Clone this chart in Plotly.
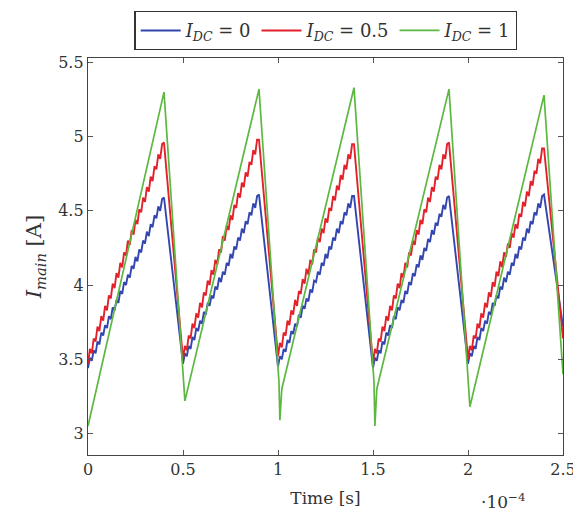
import plotly.graph_objects as go

# time in units of 1e-4 s
period_starts = [0.0, 0.5, 1.0, 1.5, 2.0]
rise_offsets = [0.00, 0.01, 0.02, 0.03, 0.04, 0.05, 0.06, 0.07, 0.08, 0.09, 0.10,
                0.11, 0.12, 0.13, 0.14, 0.15, 0.16, 0.17, 0.18, 0.19, 0.20,
                0.21, 0.22, 0.23, 0.24, 0.25, 0.26, 0.27, 0.28, 0.29, 0.30,
                0.31, 0.32, 0.33, 0.34, 0.35, 0.36, 0.37, 0.38, 0.39, 0.40]
t_end = 2.5

# I_DC = 0, one list per rising ramp, plus the last value at t_end
i_dc0_ramps = [
    [3.44, 3.51, 3.49, 3.56, 3.54, 3.62, 3.60, 3.68, 3.66, 3.73, 3.71, 3.79, 3.77, 3.85,
     3.83, 3.90, 3.88, 3.96, 3.94, 4.02, 4.00, 4.07, 4.05, 4.13, 4.11, 4.19, 4.16, 4.24,
     4.22, 4.30, 4.28, 4.36, 4.33, 4.41, 4.39, 4.47, 4.45, 4.53, 4.50, 4.58, 4.59],
    [3.47, 3.54, 3.52, 3.59, 3.57, 3.65, 3.63, 3.71, 3.69, 3.76, 3.74, 3.82, 3.80, 3.88,
     3.86, 3.93, 3.91, 3.99, 3.97, 4.05, 4.02, 4.09, 4.07, 4.15, 4.13, 4.21, 4.18, 4.26,
     4.24, 4.32, 4.30, 4.38, 4.35, 4.43, 4.41, 4.49, 4.47, 4.55, 4.52, 4.60, 4.61],
    [3.45, 3.52, 3.50, 3.57, 3.55, 3.63, 3.61, 3.69, 3.67, 3.74, 3.72, 3.80, 3.78, 3.86,
     3.84, 3.91, 3.89, 3.97, 3.95, 4.03, 4.02, 4.09, 4.07, 4.15, 4.13, 4.21, 4.18, 4.26,
     4.24, 4.32, 4.30, 4.38, 4.35, 4.43, 4.41, 4.49, 4.47, 4.55, 4.52, 4.60, 4.60],
    [3.44, 3.51, 3.49, 3.56, 3.54, 3.62, 3.60, 3.68, 3.66, 3.73, 3.71, 3.79, 3.77, 3.85,
     3.83, 3.90, 3.88, 3.96, 3.94, 4.02, 4.00, 4.08, 4.06, 4.14, 4.12, 4.20, 4.17, 4.25,
     4.23, 4.31, 4.29, 4.37, 4.34, 4.42, 4.40, 4.48, 4.46, 4.54, 4.51, 4.59, 4.60],
    [3.47, 3.54, 3.52, 3.59, 3.57, 3.65, 3.63, 3.71, 3.69, 3.76, 3.74, 3.82, 3.80, 3.88,
     3.86, 3.93, 3.91, 3.99, 3.97, 4.05, 4.02, 4.09, 4.07, 4.15, 4.13, 4.21, 4.18, 4.26,
     4.24, 4.32, 4.30, 4.38, 4.35, 4.43, 4.41, 4.49, 4.47, 4.55, 4.52, 4.60, 4.61],
]
i_dc0_end = 3.72

# I_DC = 0.5
i_dc05_ramps = [
    [3.47, 3.57, 3.54, 3.64, 3.62, 3.72, 3.69, 3.79, 3.76, 3.86, 3.83, 3.93, 3.91, 4.01,
     3.98, 4.08, 4.05, 4.15, 4.12, 4.22, 4.20, 4.30, 4.27, 4.37, 4.34, 4.44, 4.41, 4.51,
     4.49, 4.59, 4.56, 4.66, 4.63, 4.73, 4.70, 4.80, 4.78, 4.88, 4.85, 4.95, 4.96],
    [3.50, 3.59, 3.56, 3.66, 3.64, 3.74, 3.71, 3.81, 3.78, 3.88, 3.85, 3.95, 3.93, 4.03,
     4.00, 4.10, 4.07, 4.17, 4.14, 4.24, 4.22, 4.33, 4.30, 4.40, 4.37, 4.47, 4.44, 4.54,
     4.52, 4.62, 4.59, 4.69, 4.66, 4.76, 4.73, 4.83, 4.81, 4.91, 4.88, 4.98, 4.98],
    [3.52, 3.61, 3.58, 3.68, 3.66, 3.76, 3.73, 3.83, 3.80, 3.90, 3.86, 3.96, 3.94, 4.04,
     4.01, 4.11, 4.07, 4.17, 4.14, 4.24, 4.22, 4.32, 4.29, 4.38, 4.35, 4.45, 4.42, 4.52,
     4.50, 4.60, 4.57, 4.67, 4.64, 4.74, 4.71, 4.81, 4.78, 4.88, 4.85, 4.95, 4.95],
    [3.47, 3.57, 3.54, 3.64, 3.62, 3.72, 3.69, 3.79, 3.76, 3.86, 3.83, 3.93, 3.91, 4.01,
     3.98, 4.08, 4.05, 4.15, 4.12, 4.22, 4.20, 4.30, 4.27, 4.37, 4.34, 4.44, 4.41, 4.51,
     4.49, 4.59, 4.56, 4.66, 4.63, 4.73, 4.71, 4.81, 4.78, 4.88, 4.85, 4.95, 4.96],
    [3.50, 3.59, 3.56, 3.66, 3.64, 3.74, 3.71, 3.81, 3.78, 3.88, 3.85, 3.95, 3.92, 4.02,
     3.99, 4.09, 4.06, 4.16, 4.12, 4.22, 4.19, 4.28, 4.25, 4.35, 4.32, 4.41, 4.38, 4.48,
     4.46, 4.56, 4.53, 4.63, 4.60, 4.70, 4.67, 4.77, 4.75, 4.85, 4.82, 4.92, 4.92],
]
i_dc05_end = 3.64

# I_DC = 1 (smooth, own sample points)
time_dc1 = [0.00, 0.40, 0.51, 0.90, 1.005, 1.01, 1.02, 1.40, 1.505, 1.51, 1.52, 1.90, 2.01, 2.40, 2.50]
i_dc1 = [3.05, 5.30, 3.22, 5.32, 3.35, 3.09, 3.30, 5.33, 3.35, 3.05, 3.30, 5.32, 3.18, 5.28, 3.40]

names = ["<i>I<sub>DC</sub></i> = 0", "<i>I<sub>DC</sub></i> = 0.5", "<i>I<sub>DC</sub></i> = 1"]
colors = ["#3346b0", "#e3212b", "#5cb840"]

# build the shared time grid and flatten the ramps
time_ramps = [start + off for start in period_starts for off in rise_offsets] + [t_end]
i_dc0 = [v for ramp in i_dc0_ramps for v in ramp] + [i_dc0_end]
i_dc05 = [v for ramp in i_dc05_ramps for v in ramp] + [i_dc05_end]

fig = go.Figure()
fig.add_trace(go.Scatter(x=time_ramps, y=i_dc0, mode="lines", name=names[0],
                         line=dict(color=colors[0], width=1.9)))
fig.add_trace(go.Scatter(x=time_ramps, y=i_dc05, mode="lines", name=names[1],
                         line=dict(color=colors[1], width=1.9)))
fig.add_trace(go.Scatter(x=time_dc1, y=i_dc1, mode="lines", name=names[2],
                         line=dict(color=colors[2], width=1.7)))

serif = "DejaVu Serif"
axis_style = dict(showline=True, linecolor="#444", linewidth=1.3, mirror="ticks",
                  ticks="inside", ticklen=5, tickcolor="#555", tickwidth=1,
                  showgrid=False, zeroline=False, automargin=False,
                  tickfont=dict(family=serif, size=16, color="#333"))

fig.update_xaxes(range=[0, 2.5], dtick=0.5, tick0=0,
                 title=dict(text="Time [s]", standoff=13,
                            font=dict(family=serif, size=17, color="#333")),
                 **axis_style)
fig.update_yaxes(range=[2.855, 5.53], dtick=0.5, tick0=3,
                 title=dict(text="<i>I<sub>main</sub></i> [A]", standoff=10,
                            font=dict(family=serif, size=21, color="#333")),
                 **axis_style)

fig.add_annotation(x=0.926, y=-0.149, xref="paper", yref="paper", showarrow=False,
                   text="·10<sup>−4</sup>",
                   font=dict(family=serif, size=17, color="#333"))

# the page body has an 8 px margin, so the figure is shrunk by that much
fig.update_layout(
    width=573, height=508,
    margin=dict(l=80, r=18, t=50, b=61, autoexpand=False),
    plot_bgcolor="white", paper_bgcolor="white",
    legend=dict(orientation="h", x=0.501, xanchor="center", y=1.02, yanchor="bottom",
                bordercolor="#333", borderwidth=1.2, bgcolor="white",
                font=dict(family=serif, size=18, color="#333"),
                itemwidth=40, tracegroupgap=0),
)

fig.write_html("out.html")
